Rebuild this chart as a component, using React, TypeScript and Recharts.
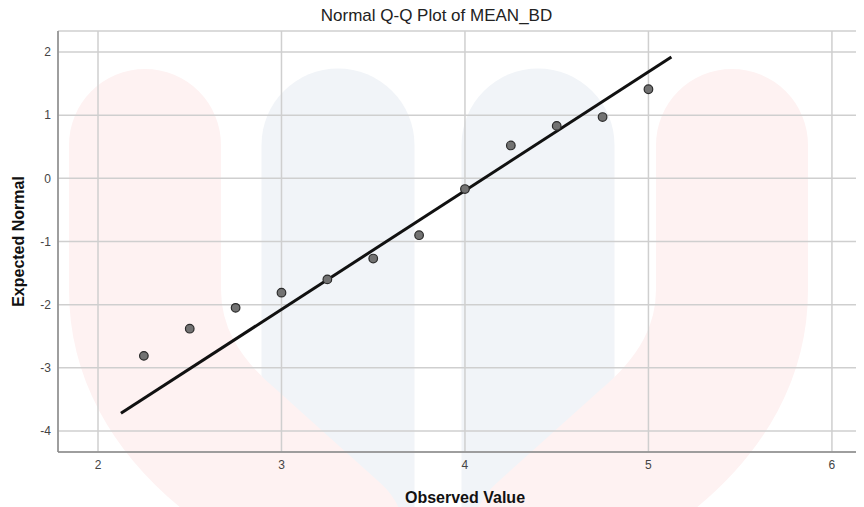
import { CartesianGrid, Scatter, ScatterChart, XAxis, YAxis } from "recharts";

// observed vs expected normal values
const observed = [2.25, 2.5, 2.75, 3.0, 3.25, 3.5, 3.75, 4.0, 4.25, 4.5, 4.75, 5.0];
const expected = [-2.81, -2.38, -2.05, -1.81, -1.6, -1.27, -0.9, -0.17, 0.52, 0.83, 0.97, 1.41];

// reference line endpoints
const lineX = [2.125, 5.125];
const lineY = [-3.72, 1.92];

const xTicks = [2, 3, 4, 5, 6];
const yTicks = [-4, -3, -2, -1, 0, 1, 2];

const points = observed.map((x, i) => ({ x, y: expected[i] }));
const refLine = lineX.map((x, i) => ({ x, y: lineY[i] }));

const Dot = (props: any) => (
  <circle cx={props.cx} cy={props.cy} r={4.3} fill="#727272" stroke="#2b2b2b" strokeWidth={1.2} />
);

// faint logo behind the plot
function Watermark() {
  return (
    <svg width={864} height={507} style={{ position: "absolute", left: 0, top: 0 }}>
      <path d="M338,145 L338,560" stroke="#f1f4f8" strokeWidth={153} strokeLinecap="round" fill="none" />
      <path d="M538,145 L538,560" stroke="#f1f4f8" strokeWidth={153} strokeLinecap="round" fill="none" />
      <path
        d="M145,145 L145,290 Q145,380 230,450 L330,540"
        stroke="#fef2f2"
        strokeWidth={152}
        strokeLinecap="round"
        fill="none"
      />
      <path
        d="M732,145 L732,290 Q732,380 647,450 L547,540"
        stroke="#fef2f2"
        strokeWidth={152}
        strokeLinecap="round"
        fill="none"
      />
    </svg>
  );
}

export default function App() {
  return (
    <div
      style={{
        position: "relative",
        width: 864,
        height: 507,
        margin: "-8px 0 0 -8px",
        overflow: "hidden",
        background: "#fff",
        fontFamily: "'Liberation Sans', Arial, sans-serif"
      }}
    >
      <Watermark />
      <div
        style={{
          position: "absolute",
          top: 6,
          left: 0,
          width: 873,
          textAlign: "center",
          fontSize: 17,
          color: "#222"
        }}
      >
        Normal Q-Q Plot of MEAN_BD
      </div>
      <div style={{ position: "absolute", left: 0, top: 0 }}>
        <ScatterChart width={880} height={507} margin={{ top: 31, right: 0, bottom: 0, left: 0 }}>
          <CartesianGrid stroke="#cfcfcf" strokeWidth={1.5} />
          <XAxis
            type="number"
            dataKey="x"
            domain={[1.782, 6.262]}
            ticks={xTicks}
            allowDataOverflow
            height={55}
            tickSize={0}
            tickMargin={8}
            stroke="#8a8a8a"
            strokeWidth={1.5}
            tick={{ fill: "#444", fontSize: 12 }}
            label={{
              value: "Observed Value",
              position: "insideBottom",
              offset: 4,
              dx: -4,
              style: { fontSize: 16, fontWeight: "bold", fill: "#111" }
            }}
          />
          <YAxis
            type="number"
            dataKey="y"
            domain={[-4.332, 2.332]}
            ticks={yTicks}
            allowDataOverflow
            width={58}
            tickSize={0}
            tickMargin={7}
            stroke="#8a8a8a"
            strokeWidth={1.5}
            tick={{ fill: "#444", fontSize: 12 }}
            label={{
              value: "Expected Normal",
              angle: -90,
              position: "insideLeft",
              offset: 18,
              style: { textAnchor: "middle", fontSize: 16, fontWeight: "bold", fill: "#111" }
            }}
          />
          <Scatter
            data={refLine}
            line={{ stroke: "#111", strokeWidth: 3 }}
            shape={() => <g />}
            isAnimationActive={false}
          />
          <Scatter data={points} shape={Dot} isAnimationActive={false} />
        </ScatterChart>
      </div>
    </div>
  );
}
